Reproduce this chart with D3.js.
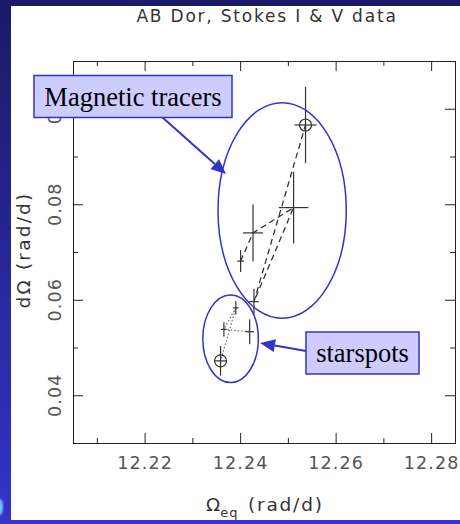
<!DOCTYPE html>
<html>
<head>
<meta charset="utf-8">
<script src="https://cdn.jsdelivr.net/npm/d3@7"></script>
<style>
  html, body { margin: 0; padding: 0; background: #1b1b6b; }
  svg { display: block; }
</style>
</head>
<body>
<svg id="chart" width="460" height="524"></svg>
<script>
// Magnetic-tracer solutions (Stokes V): equatorial rate, shear, errors
const magOmegaEq = [12.2537, 12.2512, 12.2427, 12.2401, 12.2429];
const magDOmega  = [0.0966, 0.0793, 0.0740, 0.0681, 0.0596];
const magErrX    = [0.0023, 0.0031, 0.0021, 0.0007, 0.0010];
const magErrY    = [0.0080, 0.0075, 0.0060, 0.0023, 0.0027];
const magPath    = [3, 2, 1, 4, 0];   // order of the dashed connecting line
const magRing    = [0];               // points marked with a circle

// Starspot solutions (Stokes I)
const spotOmegaEq = [12.2391, 12.2366, 12.2420, 12.2359];
const spotDOmega  = [0.0583, 0.0538, 0.0533, 0.0472];
const spotErrX    = [0.0006, 0.0006, 0.0009, 0.0012];
const spotErrY    = [0.0014, 0.0015, 0.0026, 0.0031];
const spotPath    = [2, 1, 0, 3];     // order of the dotted connecting line
const spotRing    = [3];

// Axis ticks
const xMajorTicks = [12.22, 12.24, 12.26, 12.28];
const xMinorTicks = [12.21, 12.23, 12.25, 12.27];
const yMajorTicks = [0.04, 0.06, 0.08, 0.10];
const yMinorTicks = [0.05, 0.07, 0.09];
const xTickLabels = ["12.22", "12.24", "12.26", "12.28"];
const yTickLabels = ["0.04", "0.06", "0.08", "0.1"];

const svg = d3.select("#chart");
const W = 460, H = 524;

// ---- slide background ----
const defs = svg.append("defs");
const bg = defs.append("linearGradient").attr("id", "bgGrad")
  .attr("x1", 0).attr("y1", 0).attr("x2", 0).attr("y2", 1);
bg.append("stop").attr("offset", "0%").attr("stop-color", "#1a1a66");
bg.append("stop").attr("offset", "100%").attr("stop-color", "#3434cc");
defs.append("filter").attr("id", "glow")
  .append("feGaussianBlur").attr("stdDeviation", 1.2);

svg.append("rect").attr("width", W).attr("height", H).attr("fill", "url(#bgGrad)");
svg.append("ellipse").attr("cx", 0).attr("cy", 507).attr("rx", 3).attr("ry", 8)
  .attr("fill", "#7cc0ff").attr("filter", "url(#glow)");
svg.append("rect").attr("x", 11).attr("y", 6).attr("width", W - 11).attr("height", 514)
  .attr("fill", "#ffffff");

// ---- plot frame and scales ----
const L = 73, T = 61, R = 455, B = 443;
const x = d3.scaleLinear().domain([12.205, 12.285]).range([L, R]);
const y = d3.scaleLinear().domain([0.03, 0.11]).range([B, T]);

const axisFont = "'DejaVu Sans', sans-serif";
const ink = "#222";

function styleAxis(g) {
  g.select(".domain").attr("stroke", ink).attr("stroke-width", 1);
  g.selectAll(".tick line").attr("stroke", ink).attr("stroke-width", 1);
}

// major + minor inward ticks on all four sides
const sides = [
  { make: d3.axisBottom, s: x, t: `translate(0,${B})` },
  { make: d3.axisTop,    s: x, t: `translate(0,${T})` },
  { make: d3.axisLeft,   s: y, t: `translate(${L},0)` },
  { make: d3.axisRight,  s: y, t: `translate(${R},0)` }
];
sides.forEach(sd => {
  const isX = sd.s === x;
  svg.append("g").attr("transform", sd.t)
    .call(sd.make(sd.s).tickValues(isX ? xMinorTicks : yMinorTicks).tickSize(-5).tickFormat(""))
    .call(styleAxis);
  svg.append("g").attr("transform", sd.t)
    .call(sd.make(sd.s).tickValues(isX ? xMajorTicks : yMajorTicks).tickSize(-10).tickFormat(""))
    .call(styleAxis);
});

// x tick labels
const xl = svg.append("g").attr("transform", `translate(0,${B})`)
  .call(d3.axisBottom(x).tickValues(xMajorTicks).tickSize(0).tickPadding(14)
    .tickFormat((d, i) => xTickLabels[i]));
xl.select(".domain").remove();
xl.selectAll("text").attr("font-family", axisFont).attr("font-size", 17.5)
  .attr("letter-spacing", 1.1).attr("fill", "#555");

// y tick labels (rotated)
svg.append("g").selectAll("text").data(yMajorTicks).join("text")
  .attr("transform", d => `translate(61,${y(d)}) rotate(-90)`)
  .attr("text-anchor", "middle")
  .attr("font-family", axisFont).attr("font-size", 17.5)
  .attr("letter-spacing", 1.1).attr("fill", "#555")
  .text((d, i) => yTickLabels[i]);

// title
svg.append("text").attr("x", 267).attr("y", 22).attr("text-anchor", "middle")
  .attr("font-family", axisFont).attr("font-size", 17).attr("letter-spacing", 1.8)
  .attr("fill", "#333").text("AB Dor, Stokes I & V data");

// x axis label: Omega_eq (rad/d)
const xt = svg.append("text").attr("x", 206).attr("y", 511)
  .attr("font-family", axisFont).attr("font-size", 18.5).attr("fill", "#333");
xt.append("tspan").text("Ω");
xt.append("tspan").attr("dy", 6).attr("font-size", 13).attr("letter-spacing", 1).text("eq");
xt.append("tspan").attr("x", 248).attr("dy", -6).attr("letter-spacing", 1.8).text("(rad/d)");

// y axis label: dOmega (rad/d)
svg.append("text").attr("transform", "translate(29.5,250) rotate(-90)")
  .attr("text-anchor", "middle").attr("font-family", axisFont).attr("font-size", 18.5)
  .attr("letter-spacing", 2.2).attr("fill", "#333").text("dΩ (rad/d)");

// ---- data marks ----
function drawSet(xs, ys, ex, ey, path, rings, lineStyle) {
  const pts = xs.map((v, i) => ({ x: v, y: ys[i], ex: ex[i], ey: ey[i] }));
  const g = svg.append("g");
  const line = d3.line().x(d => x(d.x)).y(d => y(d.y));
  g.append("path").datum(path.map(i => pts[i])).attr("d", line)
    .attr("fill", "none").attr("stroke", lineStyle.color)
    .attr("stroke-width", lineStyle.width).attr("stroke-dasharray", lineStyle.dash);
  const c = g.selectAll("g.pt").data(pts).join("g").attr("class", "pt");
  c.append("line").attr("x1", d => x(d.x)).attr("x2", d => x(d.x))
    .attr("y1", d => y(d.y - d.ey)).attr("y2", d => y(d.y + d.ey));
  c.append("line").attr("y1", d => y(d.y)).attr("y2", d => y(d.y))
    .attr("x1", d => x(d.x - d.ex)).attr("x2", d => x(d.x + d.ex));
  c.selectAll("line").attr("stroke", "#333").attr("stroke-width", 1.2);
  g.selectAll("circle").data(rings.map(i => pts[i])).join("circle")
    .attr("cx", d => x(d.x)).attr("cy", d => y(d.y)).attr("r", 6)
    .attr("fill", "none").attr("stroke", "#333").attr("stroke-width", 1.2);
}
drawSet(magOmegaEq, magDOmega, magErrX, magErrY, magPath, magRing,
  { color: "#333", width: 1.3, dash: "6,4" });
drawSet(spotOmegaEq, spotDOmega, spotErrX, spotErrY, spotPath, spotRing,
  { color: "#777", width: 1.3, dash: "1.5,2" });

// ---- annotations ----
const blue = "#3333cc";
// grouping ellipses, centred in data units
const groups = [
  { cx: 12.2488, cy: 0.0787, rx: 0.01343, ry: 0.02258 },
  { cx: 12.2380, cy: 0.05182, rx: 0.00582, ry: 0.00917 }
];
svg.append("g").selectAll("ellipse").data(groups).join("ellipse")
  .attr("cx", d => x(d.cx)).attr("cy", d => y(d.cy))
  .attr("rx", d => x(d.cx + d.rx) - x(d.cx)).attr("ry", d => y(d.cy - d.ry) - y(d.cy))
  .attr("fill", "none").attr("stroke", blue).attr("stroke-width", 1.5);

function arrow(x1, y1, x2, y2) {
  const a = Math.atan2(y2 - y1, x2 - x1), len = 15, half = 6.5;
  const bx = x2 - len * Math.cos(a), by = y2 - len * Math.sin(a);
  svg.append("line").attr("x1", x1).attr("y1", y1).attr("x2", bx).attr("y2", by)
    .attr("stroke", blue).attr("stroke-width", 2);
  svg.append("path").attr("fill", blue).attr("d",
    `M${x2},${y2}L${bx + half * Math.sin(a)},${by - half * Math.cos(a)}` +
    `L${bx - half * Math.sin(a)},${by + half * Math.cos(a)}Z`);
}
arrow(162, 117, 226, 174);
arrow(306, 351, 260, 343);

function callout(x0, y0, w, h, label) {
  svg.append("rect").attr("x", x0).attr("y", y0).attr("width", w).attr("height", h)
    .attr("fill", "#ccccff").attr("stroke", blue).attr("stroke-width", 1.5);
  svg.append("text").attr("x", x0 + w / 2).attr("y", y0 + h / 2 + 9)
    .attr("text-anchor", "middle").attr("font-family", "'Liberation Serif', serif")
    .attr("font-size", 26.5).attr("fill", "#000").text(label);
}
callout(34, 75.5, 198, 42, "Magnetic tracers");
callout(306, 332, 113, 42, "starspots");
</script>
</body>
</html>
